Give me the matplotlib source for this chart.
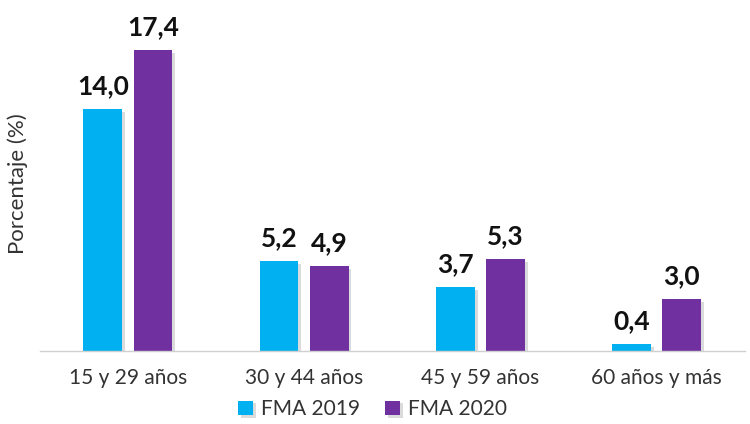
import matplotlib.pyplot as plt
import matplotlib.patheffects as pe
import numpy as np

# Data
categories = ["15 y 29 años", "30 y 44 años", "45 y 59 años", "60 años y más"]
fma_2019 = [14.0, 5.2, 3.7, 0.4]
fma_2020 = [17.4, 4.9, 5.3, 3.0]
series_names = ["FMA 2019", "FMA 2020"]

COLOR_2019 = "#00B0F0"
COLOR_2020 = "#7030A0"

plt.rcParams['font.family'] = ['Lato', 'DejaVu Sans']

fig = plt.figure(figsize=(7.5, 4.24), dpi=100)
ax = fig.add_axes([0.053, 0.172, 0.94, 0.816])

x = np.arange(len(categories))
width = 0.22
offset = 0.142

shadow = [pe.SimplePatchShadow(offset=(2, -2), shadow_rgbFace='#888888', alpha=0.3), pe.Normal()]

bars1 = ax.bar(x - offset, fma_2019, width, color=COLOR_2019, label=series_names[0])
bars2 = ax.bar(x + offset, fma_2020, width, color=COLOR_2020, label=series_names[1])
for b in list(bars1) + list(bars2):
    b.set_path_effects(shadow)

# Value labels with comma decimal
for bars, vals in ((bars1, fma_2019), (bars2, fma_2020)):
    for b, v in zip(bars, vals):
        ax.annotate(f"{v:.1f}".replace('.', ','),
                    xy=(b.get_x() + b.get_width() / 2, v),
                    xytext=(0, 8), textcoords='offset points',
                    ha='center', va='bottom', fontsize=19, fontweight='bold',
                    color='#111111')

ax.set_xlim(-0.5, 3.5)
ax.set_ylim(0, 20)
ax.set_xticks(x)
ax.set_xticklabels(categories, fontsize=15, color='#333333')
ax.tick_params(axis='x', length=0, pad=12)
ax.set_yticks([])

for side in ['top', 'right', 'left']:
    ax.spines[side].set_visible(False)
ax.spines['bottom'].set_color('#d0d0d0')
ax.spines['bottom'].set_linewidth(1)

fig.text(0.024, 0.566, "Porcentaje (%)", rotation=90, ha='center', va='center',
         fontsize=16, color='#333333')

fig.legend(loc='center', bbox_to_anchor=(0.497, 0.035), ncol=2, frameon=False,
           fontsize=15, handlelength=0.7, handleheight=0.7, handletextpad=0.4,
           columnspacing=1.2, labelcolor='#333333')

fig.savefig("out.png", dpi=100)
